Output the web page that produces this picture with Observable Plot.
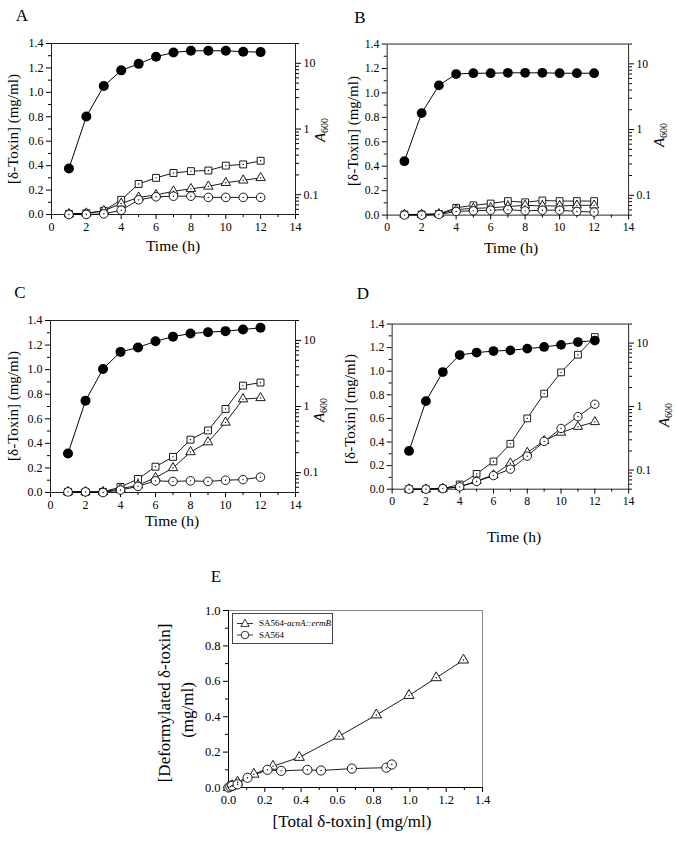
<!DOCTYPE html>
<html><head><meta charset="utf-8">
<script src="https://cdn.jsdelivr.net/npm/d3@7"></script>
<script src="https://cdn.jsdelivr.net/npm/@observablehq/plot@0.6"></script>
<style>
body{margin:0;background:#fff;}
#fig{position:relative;width:677px;height:841px;overflow:hidden;font-family:"Liberation Serif","Times New Roman",serif;color:#000;}
#fig svg, #fig svg text{font-family:"Liberation Serif","Times New Roman",serif !important;}
.layer{position:absolute;}
.lbl{position:absolute;white-space:nowrap;transform:translate(-50%,-50%);line-height:1;}
.rot{transform:translate(-50%,-50%) rotate(-90deg);}
.legend{position:absolute;border:1px solid #444;background:#fff;font-size:9px;line-height:1;}
.legend .row{display:flex;align-items:center;height:12px;}
</style></head><body><div id="fig"></div>
<script>
// ---------- data ----------
const hours = [1,2,3,4,5,6,7,8,9,10,11,12];

const aA600     = [0.25,1.55,4.5,7.8,9.8,12.6,14.6,15.5,15.5,15.5,15,14.8];
const aSquare   = [0.005,0.01,0.03,0.12,0.25,0.30,0.34,0.355,0.36,0.40,0.41,0.44];
const aTriangle = [0.005,0.01,0.03,0.09,0.14,0.16,0.19,0.21,0.23,0.26,0.28,0.30];
const aCircle   = [0.0,0.0,0.005,0.035,0.12,0.145,0.15,0.15,0.14,0.14,0.14,0.14];

const bA600     = [0.33,1.78,4.7,7.0,7.2,7.2,7.3,7.3,7.3,7.2,7.2,7.2];
const bSquare   = [0.005,0.005,0.01,0.06,0.08,0.095,0.115,0.105,0.12,0.115,0.115,0.115];
const bTriangle = [0.005,0.005,0.01,0.045,0.055,0.06,0.07,0.08,0.075,0.075,0.08,0.08];
const bCircle   = [0.0,0.0,0.005,0.03,0.035,0.04,0.045,0.035,0.04,0.04,0.03,0.025];

const cA600     = [0.195,1.22,3.7,6.7,7.8,9.7,11.4,12.7,13.3,13.8,14.6,15.5];
const cSquare   = [0.005,0.005,0.005,0.045,0.11,0.21,0.29,0.43,0.505,0.68,0.87,0.895];
const cTriangle = [0.005,0.005,0.005,0.03,0.06,0.12,0.20,0.33,0.41,0.57,0.76,0.77];
const cCircle   = [0.005,0.005,0.0,0.02,0.05,0.095,0.09,0.095,0.09,0.10,0.105,0.125];

const dA600     = [0.2,1.22,3.5,6.5,7.1,7.5,7.7,8.2,8.7,9.4,10.4,11];
const dSquare   = [0,0,0.005,0.04,0.13,0.235,0.385,0.60,0.81,0.99,1.14,1.29];
const dTriangle = [0,0,0.005,0.02,0.07,0.12,0.22,0.31,0.41,0.48,0.53,0.57];
const dCircle   = [0,0,0.005,0.02,0.065,0.115,0.17,0.28,0.405,0.515,0.615,0.72];

const eMutantTotal  = [0,0.01,0.02,0.05,0.14,0.245,0.39,0.61,0.815,0.995,1.145,1.295];
const eMutantDeform = [0,0.005,0.01,0.03,0.075,0.12,0.17,0.29,0.41,0.52,0.62,0.72];
const eWildTotal    = [0,0.01,0.02,0.05,0.105,0.215,0.29,0.435,0.51,0.68,0.87,0.9];
const eWildDeform   = [0,0.005,0.01,0.018,0.055,0.10,0.094,0.10,0.096,0.107,0.112,0.13];

const panelLetters = ["A","B","C","D","E"];
const timeTicks = [0,2,4,6,8,10,12,14];
const toxinTicks = [0,0.2,0.4,0.6,0.8,1.0,1.2,1.4];
const a600Ticks = [0.1,1,10];
const eXTicks = [0,0.2,0.4,0.6,0.8,1.0,1.2,1.4];
const eYTicks = [0,0.2,0.4,0.6,0.8,1.0];
const yTitle = "[δ-Toxin] (mg/ml)";
const xTitle = "Time (h)";
const eXTitle = "[Total δ-toxin] (mg/ml)";
const eYTitle1 = "[Deformylated δ-toxin]";
const eYTitle2 = "(mg/ml)";
const legendNames = ["SA564-", "acnA::ermB", "SA564"];

// ---------- layout ----------
const fig = document.getElementById("fig");
const FONT = "Liberation Serif, Times New Roman, serif";
const fmt1 = d3.format(".1f");
const timeMinor = [1,3,5,7,9,11,13];
const toxinMinor = [0.1,0.3,0.5,0.7,0.9,1.1,1.3];
const logMinor = [];
for (const dec of [0.01,0.1,1,10]) for (let k=2;k<=9;k++){const v=+(k*dec).toPrecision(3); if (v>=0.05 && v<=20) logMinor.push(v);}

function addLabel(text, x, y, size, rotate, html) {
  const el = document.createElement("div");
  el.className = "lbl" + (rotate ? " rot" : "");
  el.style.left = x + "px"; el.style.top = y + "px"; el.style.fontSize = size + "px";
  if (html) el.innerHTML = text; else el.textContent = text;
  fig.appendChild(el);
}
function place(svg, x, y) {
  const wrap = document.createElement("div");
  wrap.className = "layer"; wrap.style.left = x + "px"; wrap.style.top = y + "px";
  wrap.appendChild(svg); fig.appendChild(wrap);
}

const mL = 60, mR = 50, mT = 20, mB = 40;
function timePanel(g, a600, sq, tri, cir) {
  const w = g.r - g.l + mL + mR, h = g.b - g.t + mT + mB;
  const common = {width: w, height: h, marginLeft: mL, marginRight: mR, marginTop: mT, marginBottom: mB,
    style: {fontFamily: FONT, fontSize: "12px", background: "transparent", color: "black", overflow: "visible"}};
  const series = [["square", sq, 3.9], ["triangle", tri, 3.5], ["circle", cir, 4.3]];
  const marks = [
    Plot.frame({stroke: "#222", strokeWidth: 1}),
    Plot.axisX({ticks: timeMinor, tickSize: 3, tickFormat: () => ""}),
    Plot.axisX({ticks: timeTicks, tickSize: 5, tickPadding: 3, tickFormat: d => String(d)}),
    Plot.axisY({ticks: toxinMinor, tickSize: 3, tickFormat: () => ""}),
    Plot.axisY({ticks: toxinTicks, tickSize: 5, tickPadding: 3, tickFormat: fmt1})
  ];
  const datas = series.map(([sym, vals, r]) => ({sym, r, data: hours.map((t, i) => ({t, v: vals[i]}))}));
  for (const s of datas) marks.push(Plot.line(s.data, {x: "t", y: "v", stroke: "black", strokeWidth: 0.9}));
  for (const s of datas) {
    marks.push(Plot.dot(s.data, {x: "t", y: "v", symbol: s.sym, r: s.r, fill: "white", stroke: "black", strokeWidth: 0.9}));
    marks.push(Plot.dot(s.data, {x: "t", y: "v", r: 0.7, fill: "black"}));
  }
  const p1 = Plot.plot({...common, x: {domain: [0, 14], label: null}, y: {domain: [0, 1.4], label: null}, marks});
  const adata = hours.map((t, i) => ({t, a: a600[i]}));
  const p2 = Plot.plot({...common, x: {domain: [0, 14], axis: null, label: null},
    y: {type: "log", domain: [0.05, 20], label: null},
    marks: [
      Plot.axisY({anchor: "right", ticks: logMinor, tickSize: 3, tickFormat: () => ""}),
      Plot.axisY({anchor: "right", ticks: a600Ticks, tickSize: 5, tickPadding: 3, tickFormat: d => String(d)}),
      Plot.line(adata, {x: "t", y: "a", stroke: "black", strokeWidth: 1}),
      Plot.dot(adata, {x: "t", y: "a", r: 5, fill: "black"})
    ]});
  place(p1, g.l - mL, g.t - mT);
  place(p2, g.l - mL, g.t - mT);
}

const panels = [
  {g: {l: 51, t: 43, r: 295, b: 214}, d: [aA600, aSquare, aTriangle, aCircle], letter: [22, 15], yt: [13, 129], xt: [173, 246], at: [321, 130]},
  {g: {l: 388, t: 44, r: 635, b: 219}, d: [bA600, bSquare, bTriangle, bCircle], letter: [360, 17], yt: [353, 131], xt: [511, 248], at: [660, 135]},
  {g: {l: 50, t: 320, r: 295, b: 492}, d: [cA600, cSquare, cTriangle, cCircle], letter: [20, 292], yt: [13, 406], xt: [172, 521], at: [320, 410]},
  {g: {l: 393, t: 324, r: 635, b: 493}, d: [dA600, dSquare, dTriangle, dCircle], letter: [363, 293], yt: [350, 409], xt: [514, 537], at: [665, 415]}
];
panels.forEach((p, i) => {
  timePanel(p.g, ...p.d);
  addLabel(panelLetters[i], p.letter[0], p.letter[1], 17);
  addLabel(yTitle, p.yt[0], p.yt[1], 15, true);
  addLabel(xTitle, p.xt[0], p.xt[1], 15.5);
  addLabel('<i>A</i><sub style="font-size:10px;vertical-align:-3px">600</sub>', p.at[0], p.at[1], 15, true, true);
});

// ---------- panel E ----------
{
  const g = {l: 228, t: 610, r: 482, b: 787};
  const w = g.r - g.l + mL + mR, h = g.b - g.t + mT + mB;
  const mut = eMutantTotal.map((x, i) => ({x, y: eMutantDeform[i]}));
  const wt = eWildTotal.map((x, i) => ({x, y: eWildDeform[i]}));
  const p = Plot.plot({width: w, height: h, marginLeft: mL, marginRight: mR, marginTop: mT, marginBottom: mB,
    style: {fontFamily: FONT, fontSize: "12.5px", background: "transparent", color: "black", overflow: "visible"},
    x: {domain: [0, 1.4], label: null}, y: {domain: [0, 1.0], label: null},
    marks: [
      Plot.frame({stroke: "#8a8a8a"}),
      Plot.ruleX([0], {stroke: "black"}),
      Plot.ruleY([0], {stroke: "black"}),
      Plot.axisX({ticks: [0.1,0.3,0.5,0.7,0.9,1.1,1.3], tickSize: 3, tickFormat: () => ""}),
      Plot.axisX({ticks: eXTicks, tickSize: 5, tickPadding: 3, tickFormat: fmt1}),
      Plot.axisY({ticks: [0.1,0.3,0.5,0.7,0.9], tickSize: 3, tickFormat: () => ""}),
      Plot.axisY({ticks: eYTicks, tickSize: 5, tickPadding: 3, tickFormat: fmt1}),
      Plot.line(mut, {x: "x", y: "y", stroke: "black", strokeWidth: 0.9}),
      Plot.line(wt, {x: "x", y: "y", stroke: "black", strokeWidth: 0.9}),
      Plot.dot(mut, {x: "x", y: "y", symbol: "triangle", r: 3.8, fill: "white", stroke: "black", strokeWidth: 0.9}),
      Plot.dot(wt, {x: "x", y: "y", symbol: "circle", r: 4.6, fill: "white", stroke: "black", strokeWidth: 0.9}),
      Plot.dot(mut.concat(wt), {x: "x", y: "y", r: 0.7, fill: "black"})
    ]});
  place(p, g.l - mL, g.t - mT);
  addLabel(panelLetters[4], 216, 576, 17);
  addLabel(eXTitle, 352, 821, 17);
  addLabel(eYTitle1, 164, 703, 17, true);
  addLabel(eYTitle2, 187, 710, 17, true);

  const sym = (type, size) => d3.symbol(type === "triangle" ? d3.symbolTriangle : d3.symbolCircle, size)();
  const lg = document.createElement("div");
  lg.className = "legend";
  lg.style.left = "232px"; lg.style.top = "613px"; lg.style.width = "99px"; lg.style.height = "29px";
  lg.innerHTML =
    `<div class="row" style="margin-top:3px"><svg width="26" height="12"><line x1="4" x2="20" y1="6.5" y2="6.5" stroke="black" stroke-width="0.8"/><path transform="translate(12,7)" d="${sym("triangle", 30)}" fill="white" stroke="black" stroke-width="0.8"/></svg><span>${legendNames[0]}<i>${legendNames[1]}</i></span></div>` +
    `<div class="row"><svg width="26" height="12"><line x1="4" x2="20" y1="6" y2="6" stroke="black" stroke-width="0.8"/><path transform="translate(12,6)" d="${sym("circle", 45)}" fill="white" stroke="black" stroke-width="0.8"/></svg><span>${legendNames[2]}</span></div>`;
  fig.appendChild(lg);
}
</script>
</body></html>
